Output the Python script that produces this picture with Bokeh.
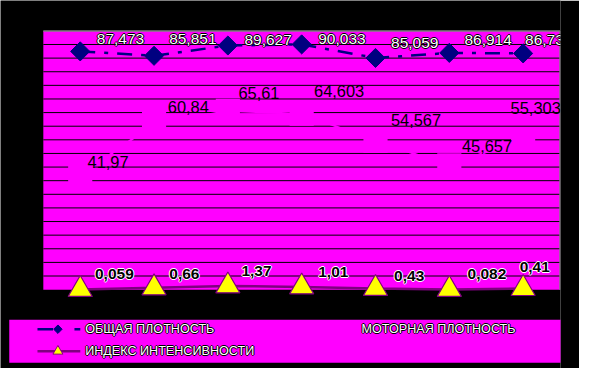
import math
from bokeh.plotting import figure
from bokeh.models import ColumnDataSource
from bokeh.core.properties import value
from bokeh.embed import file_html
from bokeh.resources import INLINE

# ---------------- data ----------------
categories = ["1", "2", "3", "4", "5", "6", "7"]
total_density = [87.473, 85.851, 89.627, 90.033, 85.059, 86.914, 86.73]
motor_density = [41.97, 60.84, 65.61, 64.603, 54.567, 45.657, 55.303]
intensity_index = [0.059, 0.66, 1.37, 1.01, 0.43, 0.082, 0.41]
series_names = ["ОБЩАЯ ПЛОТНОСТЬ", "МОТОРНАЯ ПЛОТНОСТЬ", "ИНДЕКС ИНТЕНСИВНОСТИ"]
y_max = 95
grid_step = 5

# ---------------- style / layout ----------------
FONT = "Liberation Sans"
MAGENTA = "#FF00FF"
NAVY = "#000080"
PURPLE = "#800080"
YELLOW = "#FFFF00"

W, H = 579, 368
REF_W, REF_H = 595, 384
SX, SY = W / REF_W, H / REF_H
S = (SX + SY) / 2

# reference geometry (reference pixels)
PX_LEFT, PX_RIGHT = 44.0, 575.0     # plot area x
PX_ZERO, PX_TOP = 301.7, 31.7       # y=0 and y=y_max
n = len(categories)
UX = (PX_RIGHT - PX_LEFT) / n       # ref px per x unit
UY = (PX_ZERO - PX_TOP) / y_max     # ref px per y unit


def px2x(px):
    return -0.5 + (px - PX_LEFT) / UX


def px2y(py):
    return (PX_ZERO - py) / UY


BR = int(round((REF_W - PX_RIGHT - 0.5) * SX))   # right border so frame ends at plot edge
FW = W - BR
x_start = px2x(0)
x_end = px2x(FW / SX)
y_end = px2y(0)
y_start = px2y(REF_H)

p = figure(width=W, height=H, x_range=(x_start, x_end), y_range=(y_start, y_end),
           x_axis_type=None, y_axis_type=None, toolbar_location=None,
           output_backend="svg", min_border_left=0, min_border_right=BR,
           min_border_top=0, min_border_bottom=0)
p.background_fill_color = "black"
p.border_fill_color = "black"
p.outline_line_color = None

xs = list(range(n))
xl, xr = -0.5, n - 0.5

# plot area
p.quad(left=[xl], right=[xr], bottom=[0], top=[y_max], fill_color=MAGENTA, line_color=None)
grid_vals = list(range(grid_step, y_max, grid_step))
p.segment(x0=[xl] * len(grid_vals), x1=[xr] * len(grid_vals), y0=grid_vals, y1=grid_vals,
          line_color="black", line_width=1)
p.segment(x0=[xl, xr], x1=[xr, xr], y0=[y_max, y_max], y1=[y_max, 0],
          line_color="#808080", line_width=1.5)

# motor density (drawn in background colour)
p.line(xs, motor_density, line_color=MAGENTA, line_width=2)
p.scatter(xs, motor_density, marker="square", size=25 * S, fill_color=MAGENTA, line_color=None)

# intensity line
p.line(xs, intensity_index, line_color=PURPLE, line_width=2.5)

# total density
p.line(xs, total_density, line_color=NAVY, line_width=2.5, line_dash="15 9 4 9")
p.scatter(xs, total_density, marker="square", angle=math.pi / 4, size=14 * S,
          fill_color=NAVY, line_color=NAVY)

# intensity markers
p.scatter(xs, intensity_index, marker="triangle", size=25 * S, fill_color=YELLOW,
          line_color=PURPLE, line_width=1.2)


def fmt(v):
    return str(v).replace(".", ",")


def add_text(xv, yv, texts, dx, dy, size, color, outline=None, bold=False, align="center"):
    style = "bold" if bold else "normal"
    shifts = [(-1, 0), (1, 0), (0, -1), (0, 1)] if outline else []
    for (ox, oy), col in [(s, outline) for s in shifts] + [((0, 0), color)]:
        src = ColumnDataSource(dict(x=xv, y=yv, t=texts,
                                    dx=[d * SX + ox for d in dx],
                                    dy=[d * SY + oy for d in dy]))
        p.text(x="x", y="y", text="t", x_offset="dx", y_offset="dy", source=src,
               text_color=col, text_font=value(FONT), text_font_size=f"{size * S:.1f}px",
               text_font_style=style, text_align=align, text_baseline="middle")


# labels: total density (white, outlined)
tot_dx = [17, 15.5, 17, 17, 16, 15.5, 2]
tot_dy = [-12.6, -17.2, -6.2, -5.5, -15.7, -13.9, -13.7]
add_text(xs, total_density, [fmt(v) for v in total_density], tot_dx, tot_dy, 16,
         "white", outline="black", align="left")

# labels: motor density (black)
mot_dx = [28.6, 35.2, 31.9, 38.5, 41.6, 38.7, 12.9]
mot_dy = [-13.9, -17.8, -18.2, -23.6, -21.6, -20.4, -32.5]
add_text(xs, motor_density, [fmt(v) for v in motor_density], mot_dx, mot_dy, 17, "black")

# labels: intensity (bold black, white edge)
int_dx = [35.1, 31.2, 29.4, 32.5, 34.6, 38.7, 11.9]
int_dy = [-16, -14.3, -15.8, -15.8, -12.5, -16.5, -22.5]
add_text(xs, intensity_index, [fmt(v) for v in intensity_index], int_dx, int_dy, 16,
         "black", outline="white", bold=True)

# ---------------- legend ----------------
p.quad(left=[px2x(9)], right=[px2x(576)], bottom=[px2y(378)], top=[px2y(333)],
       fill_color=MAGENTA, line_color=None)
r1, r2 = px2y(343), px2y(366)
p.segment(x0=[px2x(38), px2x(76)], x1=[px2x(54), px2x(82)], y0=[r1, r1], y1=[r1, r1],
          line_color=NAVY, line_width=2.5)
p.scatter([px2x(59)], [r1], marker="square", angle=math.pi / 4, size=6,
          fill_color=NAVY, line_color=NAVY)
p.segment(x0=[px2x(38)], x1=[px2x(82)], y0=[r2], y1=[r2], line_color=PURPLE, line_width=2.5)
p.scatter([px2x(59)], [r2], marker="triangle", size=10, fill_color=YELLOW,
          line_color=PURPLE, line_width=1)
add_text([px2x(87), px2x(371), px2x(87)], [r1, r1, r2], series_names, [0, 0, 0], [0, 0, 0],
         13, "white", outline="black", align="left")

open("out.html", "w").write(file_html(p, INLINE))
